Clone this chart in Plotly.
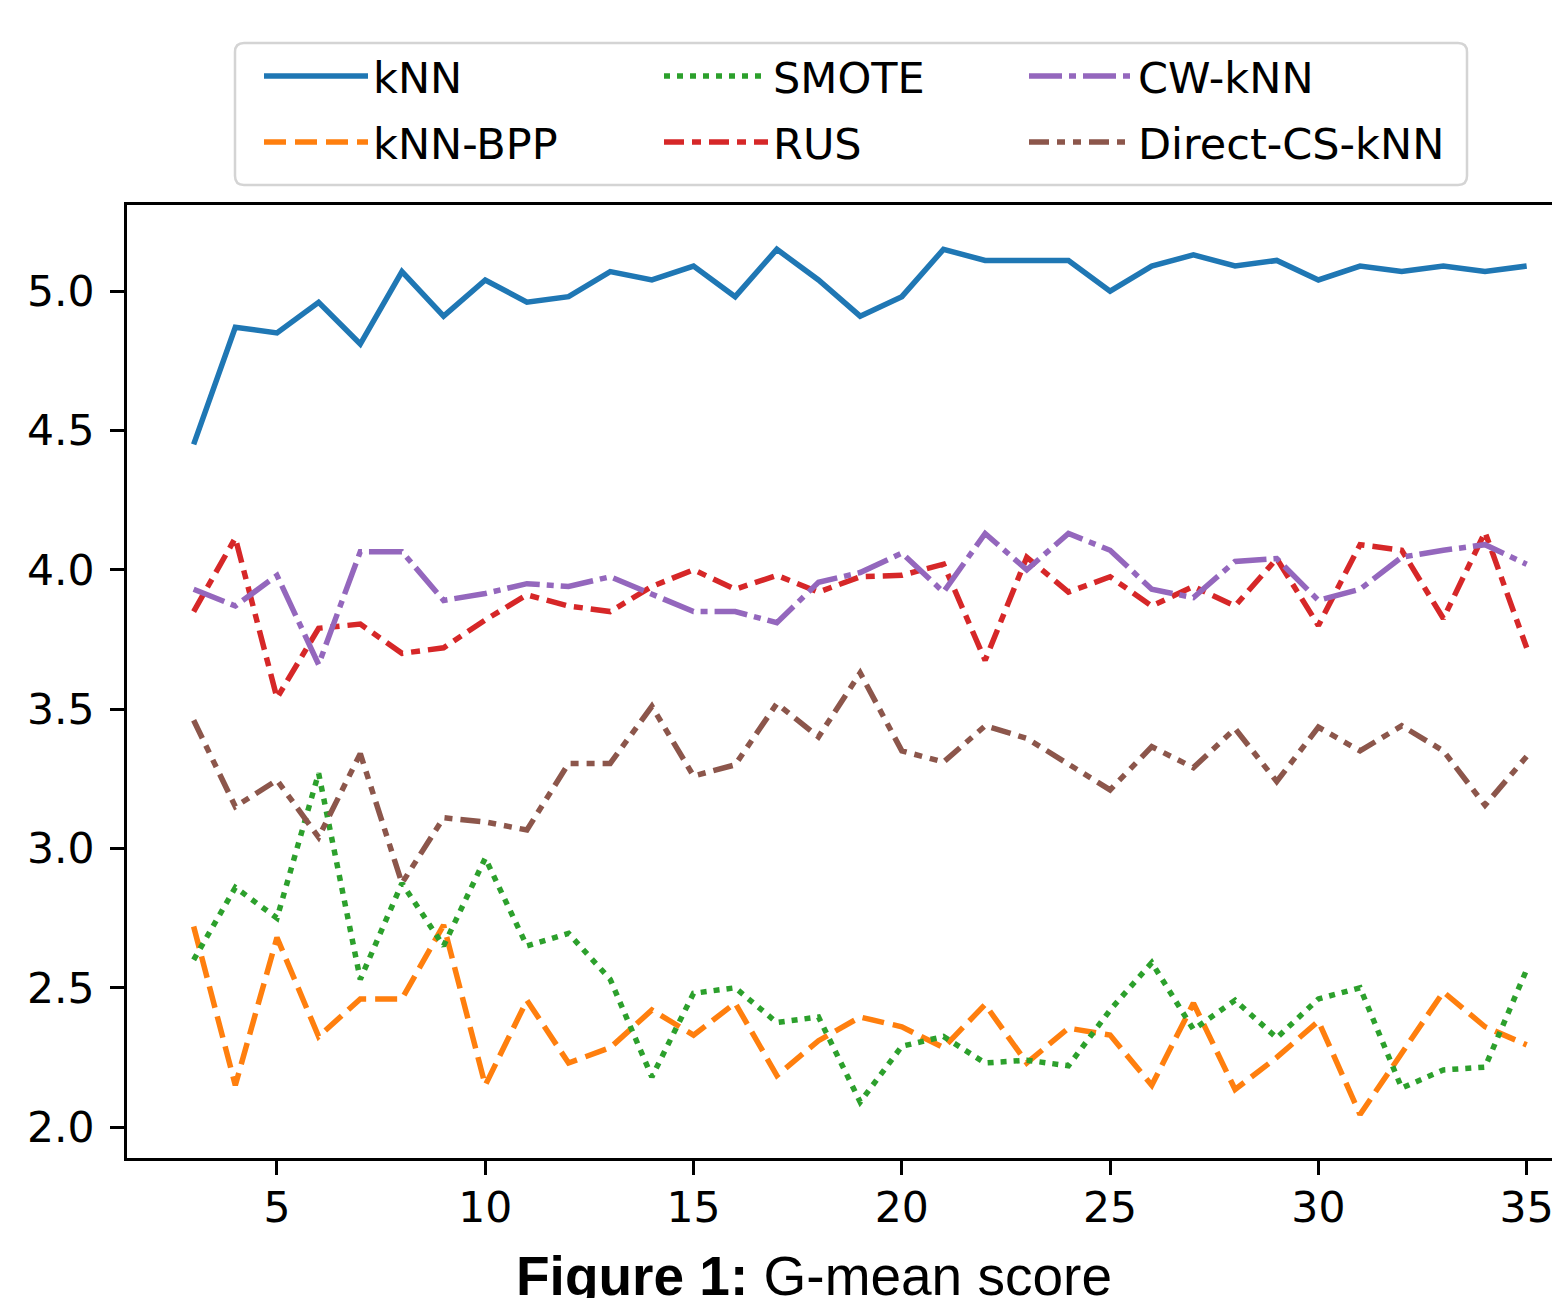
import plotly.graph_objects as go

# ---------------- data ----------------
k_values = [3, 4, 5, 6, 7, 8, 9, 10, 11, 12, 13, 14, 15, 16, 17, 18, 19,
            20, 21, 22, 23, 24, 25, 26, 27, 28, 29, 30, 31, 32, 33, 34, 35]

knn = [4.45, 4.87, 4.85, 4.96, 4.81, 5.07, 4.91, 5.04, 4.96, 4.98, 5.07, 5.04,
       5.09, 4.98, 5.15, 5.04, 4.91, 4.98, 5.15, 5.11, 5.11, 5.11, 5.00, 5.09,
       5.13, 5.09, 5.11, 5.04, 5.09, 5.07, 5.09, 5.07, 5.09]

knn_bpp = [2.72, 2.15, 2.68, 2.325, 2.46, 2.46, 2.725, 2.15, 2.455, 2.23, 2.285,
           2.42, 2.33, 2.445, 2.185, 2.31, 2.395, 2.36, 2.285, 2.44, 2.23, 2.355,
           2.33, 2.15, 2.445, 2.135, 2.25, 2.38, 2.045, 2.265, 2.485, 2.36, 2.295]

smote = [2.60, 2.86, 2.75, 3.27, 2.53, 2.875, 2.65, 2.965, 2.65, 2.695, 2.53,
         2.18, 2.48, 2.50, 2.375, 2.395, 2.09, 2.29, 2.325, 2.23, 2.24, 2.22,
         2.42, 2.59, 2.35, 2.455, 2.32, 2.46, 2.50, 2.14, 2.205, 2.215, 2.565]

rus = [3.85, 4.114, 3.54, 3.79, 3.805, 3.70, 3.72, 3.82, 3.91, 3.87, 3.85,
       3.94, 4.00, 3.93, 3.98, 3.92, 3.975, 3.98, 4.02, 3.675, 4.045, 3.92,
       3.975, 3.87, 3.94, 3.87, 4.04, 3.80, 4.09, 4.07, 3.825, 4.135, 3.72]

cw_knn = [3.93, 3.87, 3.98, 3.66, 4.065, 4.065, 3.89, 3.915, 3.95, 3.94, 3.975,
          3.915, 3.85, 3.85, 3.81, 3.955, 3.99, 4.06, 3.92, 4.13, 4.00, 4.13,
          4.07, 3.93, 3.90, 4.03, 4.04, 3.89, 3.93, 4.045, 4.07, 4.09, 4.02]

direct_cs_knn = [3.46, 3.15, 3.245, 3.04, 3.34, 2.875, 3.11, 3.095, 3.066, 3.305,
                 3.305, 3.51, 3.26, 3.30, 3.52, 3.40, 3.63, 3.35, 3.31, 3.44,
                 3.395, 3.305, 3.21, 3.365, 3.29, 3.43, 3.24, 3.435, 3.35, 3.44,
                 3.35, 3.155, 3.33]

series_names = ["kNN", "kNN-BPP", "SMOTE", "RUS", "CW-kNN", "Direct-CS-kNN"]
x_tick_vals = [5, 10, 15, 20, 25, 30, 35]
y_tick_vals = [2.0, 2.5, 3.0, 3.5, 4.0, 4.5, 5.0]
caption = "<b>Figure 1:</b> G-mean score"

# ---------------- styling ----------------
W, H = 1560, 1298
OFF = 8                      # page body margin of the html page
# plot area in screen pixels: left 127, top 205, bottom 1158, right = window edge (1560)
ML = 127 - OFF
MT = 205 - OFF
MR = OFF
MB = H - (1158 - OFF)
LW = 5.5
FONT = "DejaVu Sans"
FS = 42.5

styles = {
    "kNN":           dict(color="#1f77b4", dash="solid"),
    "kNN-BPP":       dict(color="#ff7f0e", dash="22px,9px"),
    "SMOTE":         dict(color="#2ca02c", dash="6px,7px"),
    "RUS":           dict(color="#d62728", dash="20px,8px,9px,8px"),
    "CW-kNN":        dict(color="#9467bd", dash="33px,7px,7px,7px"),
    "Direct-CS-kNN": dict(color="#8c564b", dash="20px,8px,8px,8px,8px,8px"),
}

# legend placement (screen px) : column line-start x, row centre y
legend_pos = {
    "kNN":           (250, 78),
    "SMOTE":         (650, 78),
    "CW-kNN":        (1015, 78),
    "kNN-BPP":       (250, 144),
    "RUS":           (650, 144),
    "Direct-CS-kNN": (1015, 144),
}
ITEMW = 104
legend_ids = {n: ("legend" if i == 0 else f"legend{i+1}") for i, n in enumerate(series_names)}

data = {
    "kNN": knn, "kNN-BPP": knn_bpp, "SMOTE": smote,
    "RUS": rus, "CW-kNN": cw_knn, "Direct-CS-kNN": direct_cs_knn,
}

fig = go.Figure()
for name in series_names:
    st = styles[name]
    fig.add_trace(go.Scatter(
        x=k_values, y=data[name], mode="lines", name=name,
        line=dict(color=st["color"], width=LW, dash=st["dash"]),
        legend=legend_ids[name], showlegend=True,
    ))

layout_legends = {}
for name in series_names:
    px, py = legend_pos[name]
    layout_legends[legend_ids[name]] = dict(
        xref="container", yref="container",
        x=(px + 1) / W, y=1 - (py - 10) / H,
        xanchor="left", yanchor="middle",
        bgcolor="rgba(0,0,0,0)", borderwidth=0,
        font=dict(family=FONT, size=FS + 0.5, color="black"),
        itemwidth=ITEMW,
    )

# helpers: screen pixels -> paper coordinates
pw, ph = W - ML - MR, H - MT - MB
def px2x(p): return (p - OFF - ML) / pw
def py2y(p): return (H - MB - (p - OFF)) / ph

# legend frame (rounded rectangle)
x0, x1, y0, y1 = px2x(235), px2x(1467), py2y(185), py2y(43)
rx, ry = 9 / pw, 9 / ph
path = (f"M{x0+rx},{y0} L{x1-rx},{y0} Q{x1},{y0} {x1},{y0+ry} "
        f"L{x1},{y1-ry} Q{x1},{y1} {x1-rx},{y1} L{x0+rx},{y1} "
        f"Q{x0},{y1} {x0},{y1-ry} L{x0},{y0+ry} Q{x0},{y0} {x0+rx},{y0} Z")

fig.update_layout(
    width=W, height=H,
    margin=dict(l=ML, r=MR, t=MT, b=MB, pad=0, autoexpand=False),
    paper_bgcolor="white", plot_bgcolor="white",
    font=dict(family=FONT, size=FS, color="black"),
    shapes=[dict(type="path", path=path, xref="paper", yref="paper",
                 line=dict(color="#d4d4d4", width=2.5), fillcolor="white",
                 layer="below")],
    annotations=[dict(text=caption, xref="paper", yref="paper",
                      x=px2x(814), y=py2y(1276), xanchor="center", yanchor="middle",
                      showarrow=False,
                      font=dict(family="Liberation Sans", size=55, color="black"))],
    **layout_legends,
)

fig.update_xaxes(
    range=[1.4, 35.8], tickvals=x_tick_vals, ticktext=[str(v) for v in x_tick_vals],
    showgrid=False, zeroline=False,
    showline=True, linecolor="black", linewidth=2.8, mirror=True,
    ticks="outside", ticklen=14, tickwidth=2.5, tickcolor="black",
    ticklabelstandoff=-4,
    tickfont=dict(family=FONT, size=FS, color="black"),
)
fig.update_yaxes(
    range=[1.889, 5.309], tickvals=y_tick_vals, ticktext=[f"{v:.1f}" for v in y_tick_vals],
    showgrid=False, zeroline=False,
    showline=True, linecolor="black", linewidth=2.8, mirror=False,
    ticks="outside", ticklen=14, tickwidth=2.5, tickcolor="black",
    ticklabelstandoff=7,
    tickfont=dict(family=FONT, size=FS, color="black"),
)

fig.write_html("out.html")
